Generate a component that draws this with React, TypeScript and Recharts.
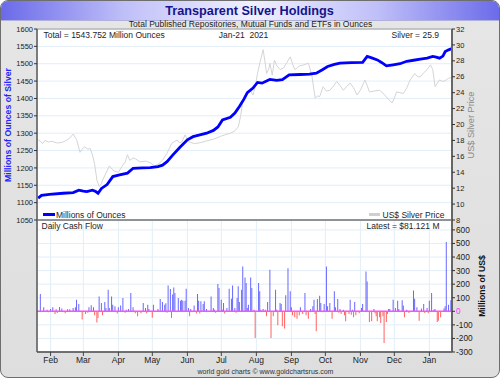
import React from "react";
import {
  ComposedChart,
  Line,
  Bar,
  Cell,
  XAxis,
  YAxis,
  CartesianGrid,
  ReferenceLine,
} from "recharts";

const FONT = "'Liberation Sans', Arial, Helvetica, sans-serif";

// ---------- data ----------
const months = ["Feb", "Mar", "Apr", "May", "Jun", "Jul", "Aug", "Sep", "Oct", "Nov", "Dec", "Jan"];
// day index from Jan-21-2020
const monthDays = [11, 40, 71, 101, 132, 162, 193, 224, 254, 285, 315, 346];

const holdDays = [0, 3, 10, 22, 31, 36, 40, 43, 48, 51, 53, 56, 61, 66, 72, 79, 84, 92, 99, 106, 110, 114, 119, 125, 132, 137, 143, 149, 155, 159, 163, 170, 174, 178, 182, 185, 190, 194, 198, 202, 205, 211, 216, 222, 232, 240, 246, 251, 256, 262, 267, 277, 287, 291, 295, 300, 304, 308, 314, 320, 326, 332, 338, 344, 349, 352, 355, 358, 360, 363, 366];
const holdOz = [1113, 1121, 1124, 1127, 1129, 1136, 1133, 1132, 1136, 1132, 1127, 1141, 1152, 1175, 1180, 1185, 1199, 1200, 1201, 1204, 1208, 1218, 1237, 1258, 1281, 1290, 1295, 1300, 1308, 1318, 1338, 1346, 1358, 1377, 1398, 1417, 1430, 1446, 1444, 1450, 1455, 1452, 1454, 1468, 1469, 1470, 1473, 1482, 1492, 1498, 1502, 1503, 1504, 1521, 1517, 1511, 1503, 1494, 1497, 1500, 1507, 1510, 1513, 1516, 1521, 1519, 1516, 1522, 1535, 1540, 1544];

const silverDays = [0, 2, 4, 6, 9, 12, 16, 19, 22, 25, 28, 31, 34, 37, 39, 41, 44, 46, 48, 50, 52, 54, 56, 57, 60, 63, 66, 68, 71, 74, 77, 79, 81, 84, 86, 90, 95, 99, 103, 106, 110, 114, 116, 118, 121, 123, 125, 127, 130, 132, 134, 138, 143, 148, 152, 156, 161, 165, 170, 174, 177, 179, 181, 183, 185, 188, 190, 192, 194, 196, 199, 201, 202, 204, 205, 207, 209, 211, 214, 217, 220, 223, 225, 227, 229, 231, 235, 239, 242, 245, 247, 249, 252, 255, 258, 261, 264, 267, 270, 273, 276, 279, 282, 285, 289, 291, 293, 297, 302, 306, 309, 313, 315, 317, 320, 323, 326, 329, 333, 336, 338, 341, 344, 347, 349, 351, 353, 355, 358, 361, 363, 366];
const silverPrice = [18.1, 17.9, 17.6, 18.0, 17.8, 17.9, 17.7, 17.7, 17.8, 18.0, 18.3, 18.8, 18.1, 16.5, 16.9, 17.2, 16.9, 17.0, 16.2, 15.0, 13.0, 12.2, 12.6, 13.0, 13.9, 14.8, 14.3, 14.1, 14.0, 14.7, 15.3, 16.2, 15.5, 15.8, 15.7, 15.3, 15.4, 15.2, 14.8, 15.0, 15.5, 16.4, 17.0, 17.6, 17.9, 18.05, 17.7, 17.8, 18.7, 18.0, 17.8, 17.6, 17.7, 17.9, 18.05, 18.2, 18.5, 18.7, 18.9, 19.2, 19.7, 21.0, 22.9, 23.5, 23.9, 24.2, 23.7, 24.8, 26.4, 27.7, 29.4, 27.5, 26.4, 27.0, 27.7, 26.2, 28.1, 27.4, 26.9, 27.1, 27.8, 28.5, 27.6, 26.9, 27.1, 27.35, 27.5, 27.7, 26.2, 23.3, 23.6, 23.5, 24.75, 24.2, 24.3, 24.8, 25.4, 24.9, 24.3, 24.8, 25.2, 24.6, 23.7, 24.3, 25.6, 24.9, 24.1, 24.2, 24.3, 23.8, 23.3, 22.7, 23.3, 24.1, 24.0, 23.9, 24.6, 25.6, 26.4, 26.0, 26.0, 26.5, 26.9, 27.5, 26.9, 24.75, 25.2, 25.6, 25.4, 25.6, 25.8, 25.9];

const flowDays = [2, 5, 8, 9, 11, 13, 15, 16, 17, 19, 21, 24, 26, 28, 31, 33, 34, 36, 39, 42, 44, 45, 47, 49, 50, 52, 53, 54, 56, 57, 59, 60, 62, 63, 65, 66, 68, 70, 71, 73, 75, 77, 78, 80, 82, 84, 86, 88, 91, 93, 95, 96, 97, 98, 101, 102, 106, 108, 110, 112, 113, 114, 115, 117, 118, 119, 120, 121, 124, 126, 127, 128, 130, 131, 133, 134, 135, 138, 140, 141, 142, 143, 144, 146, 147, 149, 153, 155, 156, 157, 159, 160, 162, 163, 164, 165, 167, 169, 171, 172, 174, 175, 176, 177, 178, 180, 181, 183, 184, 185, 186, 188, 189, 191, 192, 195, 196, 197, 199, 201, 202, 203, 205, 206, 208, 210, 211, 212, 214, 215, 216, 218, 219, 221, 223, 224, 225, 227, 229, 231, 232, 234, 236, 237, 239, 241, 243, 244, 245, 246, 247, 249, 250, 252, 253, 255, 256, 258, 260, 262, 263, 265, 266, 267, 268, 270, 271, 272, 275, 276, 277, 278, 279, 280, 281, 284, 286, 287, 290, 291, 293, 295, 297, 298, 299, 300, 302, 303, 305, 306, 308, 309, 310, 311, 314, 316, 318, 319, 322, 323, 324, 326, 328, 332, 333, 335, 337, 339, 341, 342, 344, 345, 346, 348, 350, 351, 353, 354, 356, 359, 360, 361, 363, 365];
const flowValues = [127, 29, 12, -7, 17, 29, -20, 15, -12, 32, 20, -15, 15, 15, 25, 29, 86, 54, -61, -20, -10, 29, 44, 29, -29, -83, -49, 110, 61, -29, 69, 25, 159, 25, 110, 49, 37, -17, 29, 42, 98, -10, 12, 17, 135, 29, -15, -37, -15, 61, 25, -15, 49, 17, -47, 49, 17, 91, 69, 49, 59, -10, 191, 164, -49, 123, 176, 135, 98, 78, 86, 78, 78, 167, 25, -37, 17, 42, -17, 127, 78, -17, 74, 54, 74, 17, 110, 25, 12, -10, 201, 172, 86, 12, 61, -17, 25, 167, 93, 191, 25, -10, 98, 184, 69, 159, 331, 250, 208, 25, 49, 250, 172, 12, -196, 208, 147, 12, 17, 12, -37, 69, 306, -196, -37, 159, 12, -103, 61, 54, -110, -127, 118, 318, 147, 29, -29, -44, -54, -29, 29, -20, 135, -29, -54, 17, 37, 86, -20, -147, 91, 115, 61, -7, 54, 331, 37, 61, -54, 147, 29, 91, -10, 17, -20, 12, -29, -74, -20, 86, -25, 12, -44, 69, -29, -15, 25, 54, 294, 220, -78, -74, 17, -15, -37, -74, -44, -86, -37, -233, -78, -20, 17, 17, 86, 25, 78, 17, 81, 42, -44, 12, -12, 154, 93, 29, -69, 20, 54, -12, 25, -15, 78, 135, 12, 17, -78, -69, -44, 20, 37, 510, 49, 81];

const ozTicks = [1050, 1100, 1150, 1200, 1250, 1300, 1350, 1400, 1450, 1500, 1550, 1600];
const priceTicks = [8, 10, 12, 14, 16, 18, 20, 22, 24, 26, 28, 30, 32];
const flowTicks = [-300, -200, -100, 0, 100, 200, 300, 400, 500, 600];

const totalText = "1543.752";
const dateText = "Jan-21  2021";
const silverText = "25.9";
const latestText = "81.121";

const holdData = holdDays.map((d, i) => ({ day: d, oz: holdOz[i] }));
const silverData = silverDays.map((d, i) => ({ day: d, price: silverPrice[i] }));
const flowData = flowDays.map((d, i) => ({ day: d, flow: flowValues[i] }));

// ---------- styles ----------
const GRID = "#e2eef8";
const AXIS = "#555555";

type LblProps = {
  x: number;
  y: number;
  text: string;
  size: number;
  anchor?: "start" | "middle" | "end";
  color?: string;
  bold?: boolean;
  rotate?: boolean;
};

const Lbl = ({ x, y, text, size, anchor = "start", color = "#1e1e1e", bold = false, rotate = false }: LblProps) => {
  const tx = anchor === "start" ? "0" : anchor === "middle" ? "-50%" : "-100%";
  return (
    <div
      style={{
        position: "absolute",
        left: x,
        top: y,
        transform: rotate ? "translate(-50%,-50%) rotate(-90deg)" : `translate(${tx},-50%)`,
        fontSize: size,
        lineHeight: 1,
        fontFamily: FONT,
        fontWeight: bold ? 700 : 400,
        color,
        whiteSpace: "pre",
      }}
    >
      {text}
    </div>
  );
};

const FlowTick = (props: any) => {
  const { x, y, payload } = props;
  const v = payload.value;
  return (
    <text
      x={x}
      y={y}
      dy="0.355em"
      textAnchor="start"
      fontSize={8.3}
      fontFamily={FONT}
      fill={v === 0 ? "#ff33ff" : "#222222"}
    >
      {v}
    </text>
  );
};

const tickStyle = { fontSize: 7.5, fill: "#222222", fontFamily: FONT };

export default function App() {
  return (
    <div
      style={{
        position: "absolute",
        left: 0,
        top: 0,
        width: 500,
        height: 378,
        boxSizing: "border-box",
        border: "1.5px solid #6e6e6e",
        borderRadius: 8,
        overflow: "hidden",
        background: "linear-gradient(180deg, #e6e6e6 0%, #dedede 100%)",
      }}
    >
      {/* title band */}
      <div
        style={{
          position: "absolute",
          left: 0,
          top: 0,
          width: 500,
          height: 19,
          background: "linear-gradient(90deg, #6a6aea 0%, #c0c0f9 25%, #f0f0ff 50%, #c0c0f9 75%, #6a6aea 100%)",
          borderBottom: "1px solid #b0b0d8",
        }}
      />

      <div style={{ position: "absolute", left: -1.5, top: -1.5 }}>
        {/* bottom panel */}
        <ComposedChart
          width={500}
          height={158}
          data={flowData}
          margin={{ top: 0, right: 0, bottom: 12, left: 0 }}
          style={{ position: "absolute", left: 0, top: 220 }}
        >
          <CartesianGrid yAxisId="right" stroke={GRID} fill="#ffffff" fillOpacity={1} />
          <XAxis
            type="number"
            dataKey="day"
            domain={[-1, 366]}
            ticks={monthDays}
            interval={0}
            height={14}
            tickSize={4}
            tickMargin={1}
            tickFormatter={(v: number) => months[monthDays.indexOf(v)]}
            tick={{ fontSize: 8.5, fill: "#222222", fontFamily: FONT }}
            tickLine={{ stroke: "#444444" }}
            axisLine={{ stroke: "#444444", strokeWidth: 1.5 }}
            allowDataOverflow
          />
          <YAxis
            yAxisId="left"
            orientation="left"
            width={37}
            domain={[0, 1]}
            tick={false}
            tickLine={false}
            axisLine={{ stroke: AXIS, strokeWidth: 1.5 }}
          />
          <YAxis
            yAxisId="right"
            orientation="right"
            width={48}
            type="number"
            domain={[-300, 673]}
            ticks={flowTicks}
            interval={0}
            tickSize={3}
            tickMargin={1}
            tick={<FlowTick />}
            tickLine={{ stroke: "#333333" }}
            axisLine={{ stroke: "#666666", strokeWidth: 2 }}
            allowDataOverflow
          />
          <Bar yAxisId="right" dataKey="flow" barSize={2} isAnimationActive={false}>
            {flowData.map((d, i) => (
              <Cell key={i} fill={d.flow >= 0 ? "#6a6aff" : "#ff6464"} />
            ))}
          </Bar>
          <ReferenceLine yAxisId="right" y={0} stroke="#ff4dff" strokeWidth={1.5} />
        </ComposedChart>

        {/* top panel (drawn after so its edge labels are not covered) */}
        <ComposedChart
          width={500}
          height={230}
          margin={{ top: 29, right: 0, bottom: 9, left: 0 }}
          style={{ position: "absolute", left: 0, top: 0 }}
        >
          <CartesianGrid yAxisId="left" stroke={GRID} fill="#ffffff" fillOpacity={1} />
          <XAxis
            type="number"
            dataKey="day"
            domain={[-1, 366]}
            ticks={monthDays}
            interval={0}
            height={1}
            tick={false}
            tickLine={false}
            axisLine={{ stroke: "#333333", strokeWidth: 1.2 }}
            allowDataOverflow
          />
          <YAxis
            yAxisId="left"
            orientation="left"
            width={37}
            type="number"
            domain={[1050, 1600]}
            ticks={ozTicks}
            interval={0}
            tickSize={3}
            tickMargin={1}
            tick={tickStyle}
            tickLine={{ stroke: "#333333" }}
            axisLine={{ stroke: AXIS, strokeWidth: 1.5 }}
            allowDataOverflow
          />
          <YAxis
            yAxisId="right"
            orientation="right"
            width={48}
            type="number"
            domain={[8, 32]}
            ticks={priceTicks}
            interval={0}
            tickSize={3}
            tickMargin={1}
            tick={tickStyle}
            tickLine={{ stroke: "#333333" }}
            axisLine={{ stroke: "#666666", strokeWidth: 2 }}
            allowDataOverflow
          />
          <ReferenceLine yAxisId="left" y={1600} stroke="#9a9a9a" strokeWidth={1} />
          <Line
            yAxisId="right"
            data={silverData}
            dataKey="price"
            type="linear"
            stroke="#d4d4d4"
            strokeWidth={1}
            dot={false}
            isAnimationActive={false}
          />
          <Line
            yAxisId="left"
            data={holdData}
            dataKey="oz"
            type="linear"
            stroke="#0000ff"
            strokeWidth={2.8}
            dot={false}
            isAnimationActive={false}
          />
        </ComposedChart>

        {/* texts */}
        <Lbl x={250} y={11} text="Transparent Silver Holdings" size={12.7} anchor="middle" bold color="#14148a" />
        <Lbl x={251} y={24.5} text="Total Published Repositories, Mutual Funds and ETFs in Ounces" size={8.5} anchor="middle" />
        <Lbl x={44} y={35} text={`Total = ${totalText} Million Ounces`} size={8.5} />
        <Lbl x={244} y={35} text={dateText} size={8.5} anchor="middle" />
        <Lbl x={439.5} y={35} text={`Silver = ${silverText}`} size={8.5} anchor="end" />

        <div style={{ position: "absolute", left: 43, top: 213.5, width: 12, height: 3, background: "#0000ff" }} />
        <Lbl x={56.5} y={215} text="Millions of Ounces" size={8.5} />
        <div style={{ position: "absolute", left: 369, top: 213.5, width: 11, height: 3, background: "#cfcfcf" }} />
        <Lbl x={383} y={215} text="US$ Silver Price" size={8.5} />

        <Lbl x={42} y={226} text="Daily Cash Flow" size={8.5} />
        <Lbl x={440} y={226} text={`Latest = $${latestText} M`} size={8.5} anchor="end" />

        <Lbl x={8.5} y={125} text="Millions of Ounces of Silver" size={8.7} bold rotate color="#2323ff" />
        <Lbl x={472} y={125} text="US$ Silver Price" size={9.2} rotate color="#8a8a8a" />
        <Lbl x={482} y={286} text="Millions of US$" size={8.6} bold rotate color="#111111" />

        <Lbl x={266} y={371} text="world gold charts © www.goldchartsrus.com" size={7} anchor="middle" color="#333333" />
      </div>
    </div>
  );
}
